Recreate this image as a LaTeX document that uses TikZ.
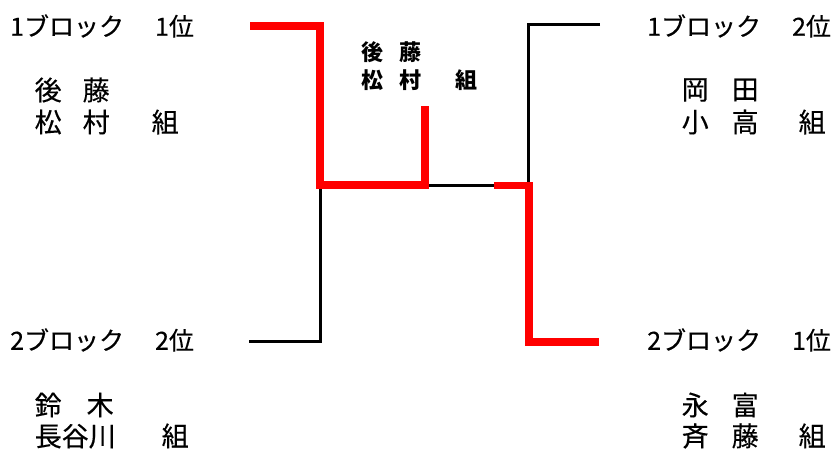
\documentclass[tikz,border=0pt]{standalone}
\usepackage{fontspec}
\setmainfont{Noto Sans CJK JP}[UprightFeatures={FakeBold=0.35}]
\begin{document}
\begin{tikzpicture}[x=1pt,y=-1pt,
  lbl/.style={anchor=west,inner sep=0pt,font=\fontsize{25}{25}\selectfont},
  nm/.style={anchor=west,inner sep=0pt,font=\fontsize{27}{27}\selectfont},
  win/.style={anchor=west,inner sep=0pt,font=\fontsize{22}{22}\selectfont\bfseries},
  thin/.style={draw=black,line width=3pt,line join=miter},
  thick/.style={draw=red,line width=7.2pt,line join=miter}]
\useasboundingbox (0,0) rectangle (835,452);
% labels left
\node[lbl] (l1) at (10,26) {1ブロック\hspace{31pt}1位};
\node[nm] (l1a) at (34.5,90) {後\hspace{21pt}藤};
\node[nm] (l1b) at (34.5,122) {松\hspace{21pt}村\hspace{42pt}組};
\node[lbl] (l2) at (10,340) {2ブロック\hspace{31pt}2位};
\node[nm] (l2a) at (34.5,405) {鈴\hspace{25pt}木};
\node[nm] (l2b) at (34.5,436) {長谷川\hspace{46pt}組};
% labels right
\node[lbl] (r1) at (647,26) {1ブロック\hspace{31pt}2位};
\node[nm] (r1a) at (681.5,90) {岡\hspace{23pt}田};
\node[nm] (r1b) at (681.5,122) {小\hspace{23pt}高\hspace{40pt}組};
\node[lbl] (r2) at (647,340) {2ブロック\hspace{31pt}1位};
\node[nm] (r2a) at (681.5,405) {永\hspace{23pt}富};
\node[nm] (r2b) at (681.5,436) {斉\hspace{23pt}藤\hspace{40pt}組};
% winner
\node[win] (w1) at (361,52) {後\hspace{16pt}藤};
\node[win] (w2) at (361,80) {松\hspace{16pt}村\hspace{34pt}組};
% coordinates
\coordinate (a0) at (250,26);
\coordinate (a1) at (320,26);
\coordinate (m1) at (320,185);
\coordinate (c0) at (425,185);
\coordinate (c1) at (425,106);
\coordinate (b0) at (249,341);
\coordinate (b1) at (320,341);
\coordinate (d0) at (600,25);
\coordinate (d1) at (528,25);
\coordinate (m2) at (528,185);
\coordinate (e0) at (494,185.5);
\coordinate (e1) at (529,185.5);
\coordinate (e2) at (529,342);
\coordinate (e3) at (599,342);
% black lines
\draw[thin] (b0) -- (b1) -- (m1) -- (m2);
\draw[thin] (d0) -- (d1) -- (m2);
% red lines
\draw[thick] (a0) -- (a1) -- (m1) -- (c0) -- (c1);
\draw[thick] (e0) -- (e1) -- (e2) -- (e3);
\end{tikzpicture}
\end{document}
